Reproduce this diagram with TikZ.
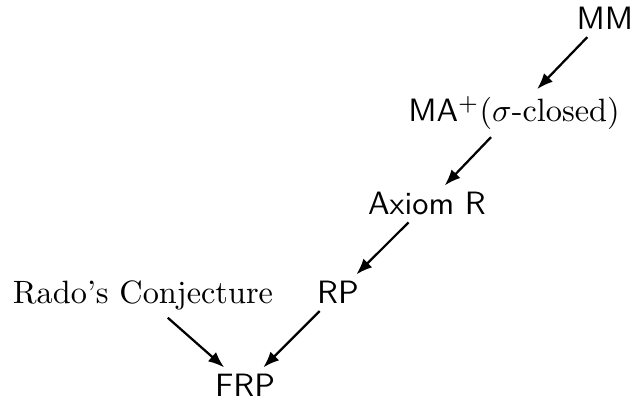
\documentclass[tikz,border=0pt]{standalone}
\usepackage{amsmath,amssymb}
\usepackage{xcolor}
\usepackage{tikz}
\usetikzlibrary{arrows.meta}
\tikzset{
  imp/.style={draw=black, line width=0.7pt, -{Latex[length=5pt,width=3.8pt]}},
  lab/.style={anchor=base, inner sep=2pt, text=black},
  labs/.style={lab, font=\sffamily},
}
\begin{document}
\begin{tikzpicture}[x=0.01088cm, y=-0.01088cm]
  \useasboundingbox (0,0) rectangle (634,400);
  % principles, strongest at the top
  \node[labs] (mm)    at (605,30)  {MM};
  \node[lab]  (ma)    at (514,122) {\textsf{MA}$^+$($\sigma$-closed)};
  \node[labs] (axr)   at (427,215) {Axiom R};
  \node[labs] (rp)    at (338,304) {RP};
  \node[lab]  (rado)  at (143,304) {Rado's Conjecture};
  \node[labs] (frp)   at (245,397) {FRP};
  % implications
  \draw[imp] (mm)   -- (ma);
  \draw[imp] (ma)   -- (axr);
  \draw[imp] (axr)  -- (rp);
  \draw[imp] (rp)   -- (frp);
  \draw[imp] (rado) -- (frp);
\end{tikzpicture}
\end{document}
